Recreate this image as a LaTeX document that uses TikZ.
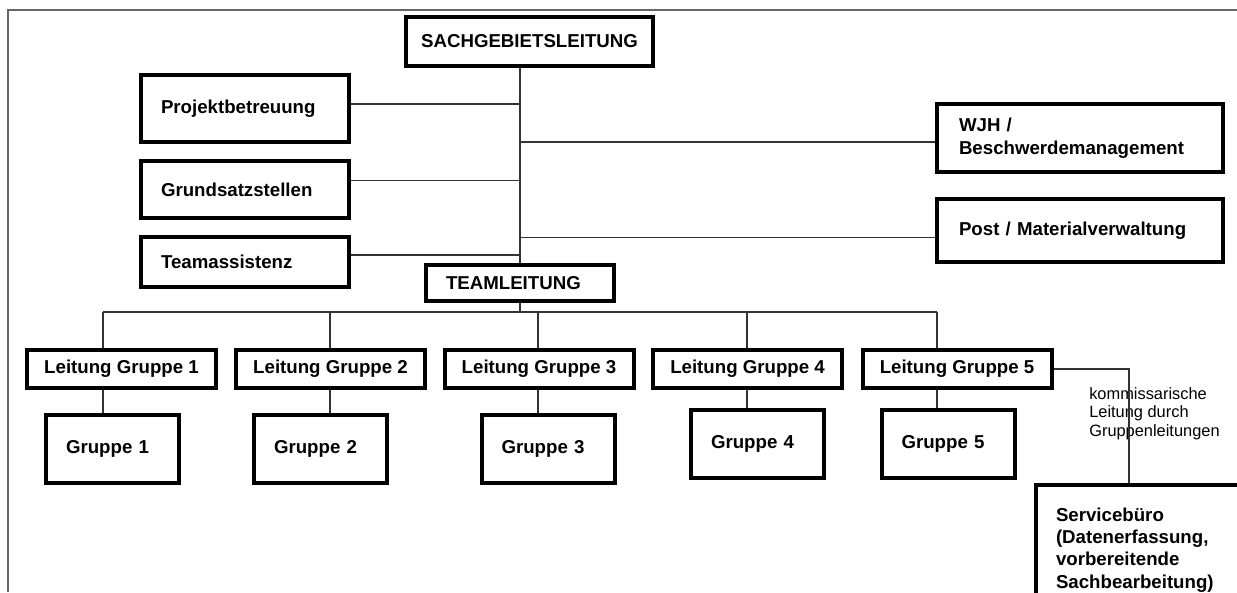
\documentclass[tikz,border=0pt]{standalone}
\usepackage{fontspec}
\setmainfont{Liberation Sans}
\usetikzlibrary{calc}

\tikzset{
  box/.style={draw, line width=3pt, inner sep=0pt, align=left,
    font=\bfseries\fontsize{14}{17}\selectfont},
  conn/.style={draw=black!80, line width=0.8pt},
}

\begin{document}
\begin{tikzpicture}[x=0.75pt,y=-0.75pt]
    \useasboundingbox (0,0) rectangle (1237,592);
    \draw[black!60, line width=1pt] (1237,10) -- (8,10) -- (8,592);

    \node[box, align=center, minimum width=185.25pt, minimum height=36.75pt] (sgl) at (529.5,41.5) {SACHGEBIETSLEITUNG};
    \node[box, minimum width=156pt, minimum height=50.25pt, text width=126pt] (proj) at (245,108.5) {Projektbetreuung};
    \node[box, minimum width=156pt, minimum height=42.75pt, text width=126pt] (grund) at (245,189.5) {Grundsatzstellen};
    \node[box, minimum width=156pt, minimum height=37.5pt, text width=126pt] (assist) at (245,262) {Teamassistenz};
    \node[box, minimum width=214.5pt, minimum height=51pt, text width=181.5pt] (wjh) at (1080,138) {WJH /\\ Beschwerdemanagement};
    \node[box, minimum width=214.5pt, minimum height=47.25pt, text width=181.5pt] (post) at (1080,230.5) {Post / Materialverwaltung};
    \node[box, minimum width=141pt, minimum height=27pt, text width=111pt] (tl) at (520,283) {TEAMLEITUNG};

    \foreach \i/\x in {1/121.5,2/330.5,3/539,4/747.5,5/957}
      \node[box, align=center, minimum width=141.75pt, minimum height=28.5pt] (lg\i) at (\x,369) {Leitung Gruppe \i};
    \foreach \i/\x/\y in {1/112.5/449,2/320.5/449,3/548/449,4/757.5/444,5/948/444}
      \node[box, minimum width=99.75pt, minimum height=51pt, text width=69.75pt] (g\i) at (\x,\y) {Gruppe \i};

    \node[box, anchor=north west, minimum width=171pt, minimum height=97.5pt, text width=141pt,
      font=\bfseries\fontsize{14}{16.7}\selectfont] (svc) at (1034,483)
      {Servicebüro\\ (Datenerfassung,\\ vorbereitende\\ Sachbearbeitung)};
    \node[anchor=north west, inner sep=0pt, align=left, font=\fontsize{12.3}{13.9}\selectfont] (note) at (1089,387)
      {kommissarische\\ Leitung durch\\ Gruppenleitungen};

    % Stab
    \draw[conn] (sgl.south -| tl.north) -- (tl.north);
    \draw[conn] ([yshift=3.4pt]proj.east) -| (tl.north);
    \draw[conn] ([yshift=7.1pt]grund.east) -| (tl.north);
    \draw[conn] ([yshift=5.25pt]assist.east) -| (tl.north);
    \draw[conn] ([yshift=-3pt]wjh.west) -| (tl.north);
    \draw[conn] ([yshift=-4.9pt]post.west) -| (tl.north);

    % Gruppen
    \foreach \i/\x in {1/103,2/330,3/538,4/747,5/937}
      \coordinate (d\i) at (\x,312);
    \draw[conn] (tl.south) -- (tl.south |- d1);
    \draw[conn] (d1) -- (d5);
    \foreach \i in {1,...,5}
      \draw[conn] (d\i) -- (d\i |- lg\i.north) (d\i |- lg\i.south) -- (d\i |- g\i.north);

    \draw[conn] (lg5.east) -| ([xshift=-15.75pt]svc.north);
\end{tikzpicture}
\end{document}
